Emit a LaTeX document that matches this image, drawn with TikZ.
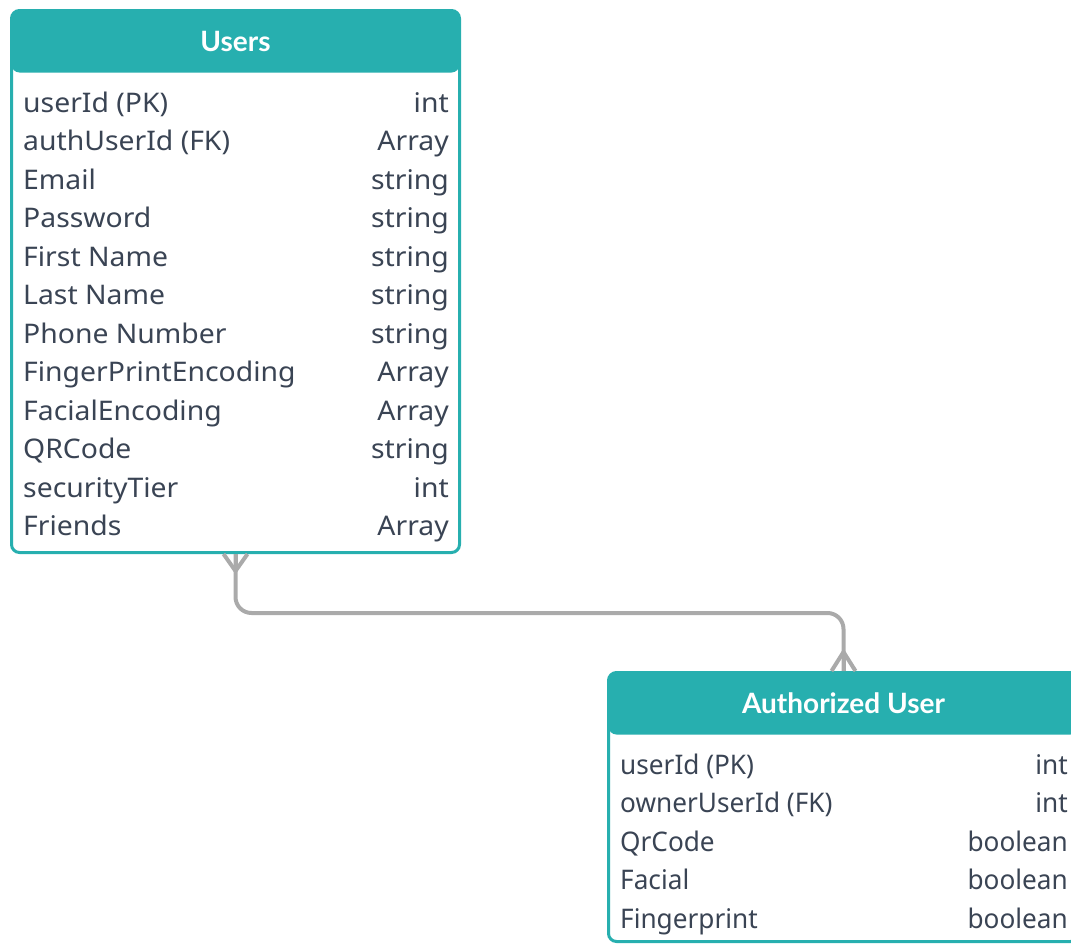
\documentclass[tikz,border=0pt]{standalone}
\usepackage{fontspec}
\setmainfont{Lato}
\newfontfamily\fieldfont[FakeStretch=1.05]{Noto Sans}
\newfontfamily\narrowfieldfont[FakeStretch=0.97]{Noto Sans}
\usetikzlibrary{calc, positioning}
\definecolor{erteal}{HTML}{27AFAF}
\definecolor{erink}{HTML}{3A4454}
\definecolor{ergray}{HTML}{AAAAAA}
\tikzset{
    entity/.style = {
      draw=erteal, line width=3pt, fill=white, rounded corners=8pt, inner sep=0,
      path picture={\fill [erteal] (path picture bounding box.north west)
        rectangle ([yshift=-62pt] path picture bounding box.north east);},
    },
    title/.style = {text=white, font=\bfseries\fontsize{28}{32}\selectfont, inner sep=0},
    field/.style = {text=erink, font=\fieldfont\fontsize{27}{30}\selectfont, inner sep=0},
    narrow field/.style = {field, font=\narrowfieldfont\fontsize{27}{30}\selectfont},
    link/.style = {line width=4pt, draw=ergray},
}
\newcommand{\fieldrows}[3]{%
  %% Write the rows of an entity:
  %% Arguments:
  %%    1. Name of the entity node
  %%    2. Style of the field texts
  %%    3. List of name/type pairs
  \foreach \fname/\ftype [count=\i] in {#3}{%
    \node [#2, anchor=base west] (#1_name\i)
      at ([xshift=13pt, yshift={-64.5pt - 38.5pt*\i}] #1.north west) {\fname};
    \node [#2, anchor=base east] (#1_type\i)
      at ($(#1_name\i.base -| #1.east) + (-12, 0)$) {\ftype};
  }
}

\begin{document}
\begin{tikzpicture}[x=1pt, y=-1pt]
    \useasboundingbox (0, 0) rectangle (1071, 945);
    \clip (0, 0) rectangle (1071, 945);

    %% The two entities
    \node [entity, minimum width=448pt, minimum height=542pt] (users) at (235.5, 281.5) {};
    \node [entity, minimum width=470pt, minimum height=269pt] (auth) at (843.5, 807) {};

    %% Connect them, with a crow's foot at each end
    \coordinate (bend) at (540, 613);
    \draw [link, rounded corners=16pt] (users.south) |- (bend) -| (auth.north);
    \foreach \dx in {-12, 0, 12}{%
      \draw [link] ($(users.south) + (0, 17)$) -- ([xshift=\dx pt] users.south);
      \draw [link] ($(auth.north) + (0, -19)$) -- ([xshift=\dx pt] auth.north);
    }

    %% Titles
    \node [title, anchor=base] (users_title) at ($(users.north) + (0, 42)$) {Users};
    \node [title, anchor=base] (auth_title) at ($(auth.north) + (0, 42)$) {Authorized User};

    %% Fields
    \fieldrows{users}{field}{userId (PK)/int, authUserId (FK)/Array, Email/string,
      Password/string, First Name/string, Last Name/string, Phone Number/string,
      FingerPrintEncoding/Array, FacialEncoding/Array, QRCode/string,
      securityTier/int, Friends/Array}
    \fieldrows{auth}{narrow field}{userId (PK)/int, ownerUserId (FK)/int,
      QrCode/boolean, Facial/boolean, Fingerprint/boolean}
  \end{tikzpicture}
\end{document}
